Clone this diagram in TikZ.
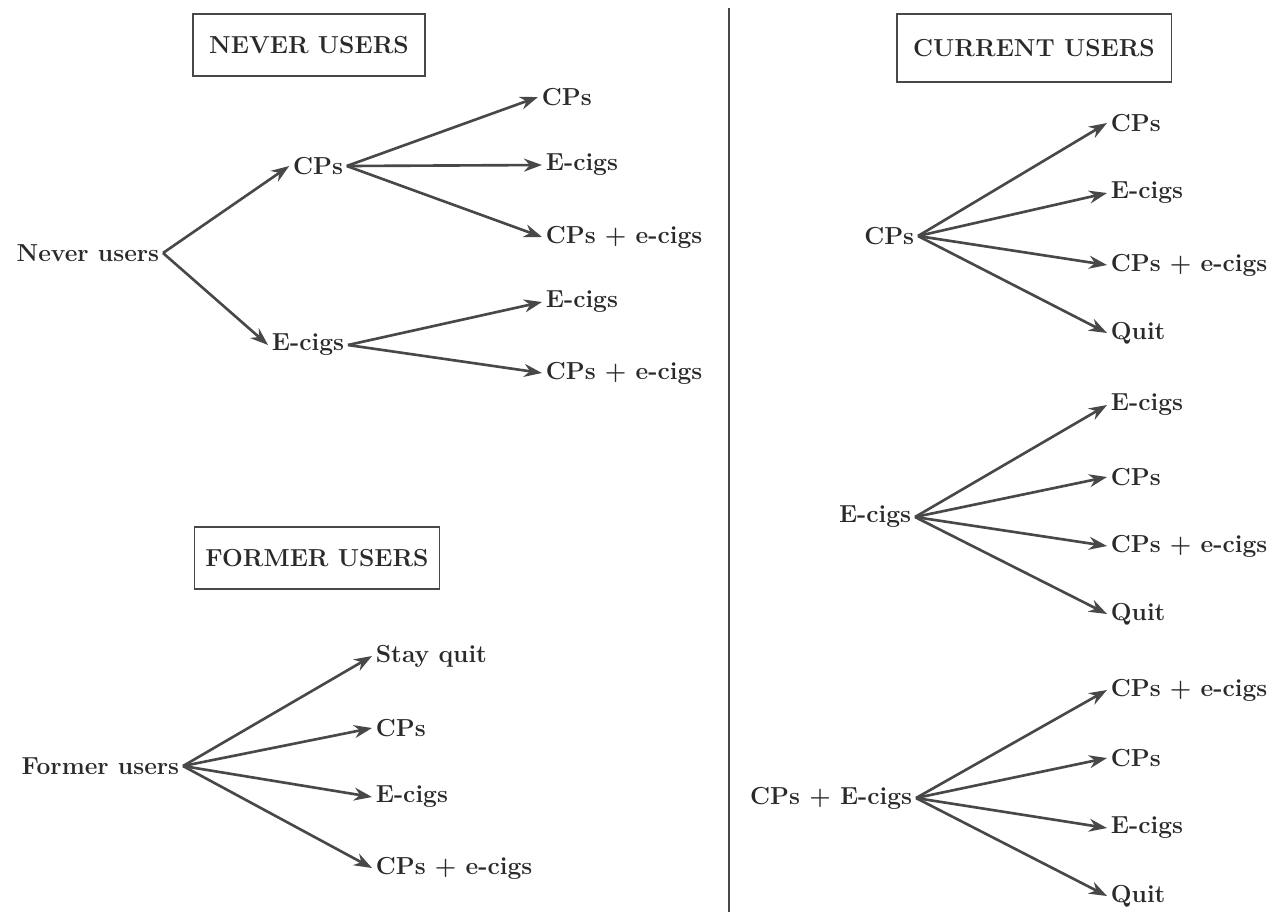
\documentclass[tikz,border=0pt]{standalone}
\usetikzlibrary{arrows.meta}

\definecolor{ink}{HTML}{2A2A2A}
\definecolor{wire}{HTML}{484848}

\begin{document}
\begin{tikzpicture}[x=0.02cm, y=-0.02cm,
		lbl/.style={text=ink, font=\fontsize{14}{16}\selectfont\bfseries, inner sep=2pt},
		hdr/.style={lbl, draw=wire, line width=1.1pt, inner sep=0pt},
		arr/.style={draw=wire, line width=1.5pt, -{Stealth[length=3.6mm, width=2.6mm]}}]
		\useasboundingbox (0, 0) rectangle (1273, 914);
		
		\draw[wire, line width=1pt] (729, 8) -- (729, 912);
		
		% headers
		\node[hdr, minimum width=4.64cm, minimum height=1.25cm] (hnever) at (309, 45) {NEVER USERS};
		\node[hdr, minimum width=5.5cm, minimum height=1.36cm] (hcurrent) at (1034, 48) {CURRENT USERS};
		\node[hdr, minimum width=4.9cm, minimum height=1.25cm] (hformer) at (317, 558) {FORMER USERS};
		
		% never users
		\node[lbl, anchor=east] (nu) at (163, 253) {Never users};
		\node[lbl] (ncp) at (318, 166) {CPs};
		\node[lbl] (nec) at (308, 345) {E-cigs};
		\node[lbl, anchor=west] (ncp1) at (538, 97) {CPs};
		\node[lbl, anchor=west] (ncp2) at (542, 165) {E-cigs};
		\node[lbl, anchor=west] (ncp3) at (542, 237) {CPs + e-cigs};
		\node[lbl, anchor=west] (nec1) at (542, 302) {E-cigs};
		\node[lbl, anchor=west] (nec2) at (542, 373) {CPs + e-cigs};
		
		\draw[arr] (nu.east) -- (ncp.west);
		\draw[arr] (nu.east) -- (nec.west);
		\draw[arr] (ncp.east) -- (ncp1.west);
		\draw[arr] (ncp.east) -- (ncp2.west);
		\draw[arr] (ncp.east) -- (ncp3.west);
		\draw[arr] (nec.east) -- (nec1.west);
		\draw[arr] (nec.east) -- (nec2.west);
		
		% former users
		\node[lbl, anchor=east] (fu) at (183, 766) {Former users};
		\node[lbl, anchor=west] (fu1) at (372, 656) {Stay quit};
		\node[lbl, anchor=west] (fu2) at (372, 728) {CPs};
		\node[lbl, anchor=west] (fu3) at (372, 797) {E-cigs};
		\node[lbl, anchor=west] (fu4) at (372, 868) {CPs + e-cigs};
		
		\foreach \t in {fu1, fu2, fu3, fu4}
			\draw[arr] (fu.east) -- (\t.west);
		
		% current users
		\node[lbl, anchor=east] (ccp) at (918, 236) {CPs};
		\node[lbl, anchor=west] (ccp1) at (1107, 123) {CPs};
		\node[lbl, anchor=west] (ccp2) at (1107, 193) {E-cigs};
		\node[lbl, anchor=west] (ccp3) at (1107, 265) {CPs + e-cigs};
		\node[lbl, anchor=west] (ccp4) at (1107, 333) {Quit};
		
		\node[lbl, anchor=east] (cec) at (915, 517) {E-cigs};
		\node[lbl, anchor=west] (cec1) at (1107, 405) {E-cigs};
		\node[lbl, anchor=west] (cec2) at (1107, 477) {CPs};
		\node[lbl, anchor=west] (cec3) at (1107, 546) {CPs + e-cigs};
		\node[lbl, anchor=west] (cec4) at (1107, 614) {Quit};
		
		\node[lbl, anchor=east] (cboth) at (916, 798) {CPs + E-cigs};
		\node[lbl, anchor=west] (cboth1) at (1107, 690) {CPs + e-cigs};
		\node[lbl, anchor=west] (cboth2) at (1107, 758) {CPs};
		\node[lbl, anchor=west] (cboth3) at (1107, 828) {E-cigs};
		\node[lbl, anchor=west] (cboth4) at (1107, 896) {Quit};
		
		\foreach \s in {ccp, cec, cboth}
			\foreach \i in {1, 2, 3, 4}
				\draw[arr] (\s.east) -- (\s\i.west);
	\end{tikzpicture}
\end{document}
